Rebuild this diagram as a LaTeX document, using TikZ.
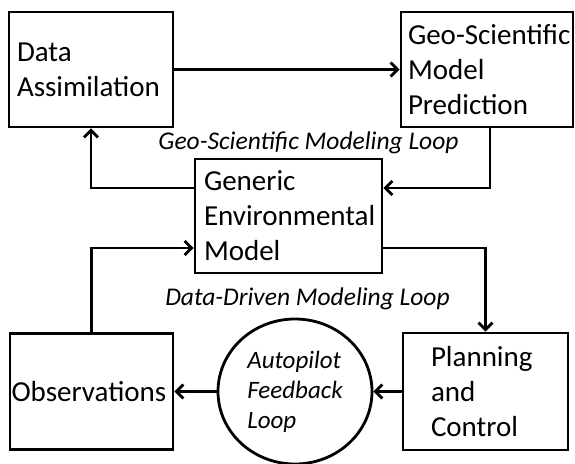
\documentclass[tikz,border=0pt]{standalone}
\usepackage{fontspec}
\setmainfont{Carlito}
\usetikzlibrary{arrows.meta,shapes.geometric}
\begin{document}
\begin{tikzpicture}[x=1pt,y=-1pt,
  box/.style={draw, line width=2.8pt, rectangle, align=left, inner ysep=0pt,
    font=\fontsize{29pt}{35pt}\selectfont},
  loopnode/.style={draw, line width=2.8pt, ellipse, align=left,
    font=\fontsize{25pt}{30pt}\selectfont\itshape},
  looplabel/.style={font=\fontsize{25.5pt}{30pt}\selectfont\itshape, inner sep=0pt},
  arr/.style={line width=2.8pt, -{Straight Barb[length=7pt,width=14pt,line width=2.8pt]}}]
\useasboundingbox (0,0) rectangle (575,463);

\node[box, minimum width=164pt, minimum height=115pt, inner xsep=8pt, text width=148pt] (da) at (91,69.5) {Data\\Assimilation};
\node[box, minimum width=172pt, minimum height=115pt, inner xsep=7pt, text width=158pt] (geo) at (487,69.5) {\mbox{Geo-Scientific}\\Model\\Prediction};
\node[box, minimum width=187pt, minimum height=114pt, inner xsep=9pt, text width=169pt] (gen) at (288.5,216) {Generic\\Environmental\\Model};
\node[box, minimum width=163pt, minimum height=116pt, inner xsep=1.5pt, text width=160pt] (obs) at (91.5,391.5) {Observations};
\node[box, minimum width=165pt, minimum height=117pt, inner xsep=28pt, text width=109pt] (pc) at (485.5,391.5) {Planning\\and\\Control};
\node[loopnode, minimum width=154pt, minimum height=145pt, inner sep=0pt] (fb) at (295,391.5) {Autopilot\\Feedback\\Loop};

\node[looplabel] (gml) at (308.5,143) {Geo-Scientific Modeling Loop};
\node[looplabel] (ddl) at (307.5,299) {Data-Driven Modeling Loop};

\draw[arr] (da) -- (geo);
\draw[arr] ([xshift=3pt]geo.south) |- ([yshift=28pt]gen.east);
\draw[arr] ([yshift=28pt]gen.west) -| (da.south);
\draw[arr] (obs.north) |- ([yshift=-32pt]gen.west);
\draw[arr] ([yshift=-32pt]gen.east) -| (pc.north);
\draw[arr] (pc.west) -- (fb.east);
\draw[arr] (fb.west) -- (obs.east);
\end{tikzpicture}
\end{document}
